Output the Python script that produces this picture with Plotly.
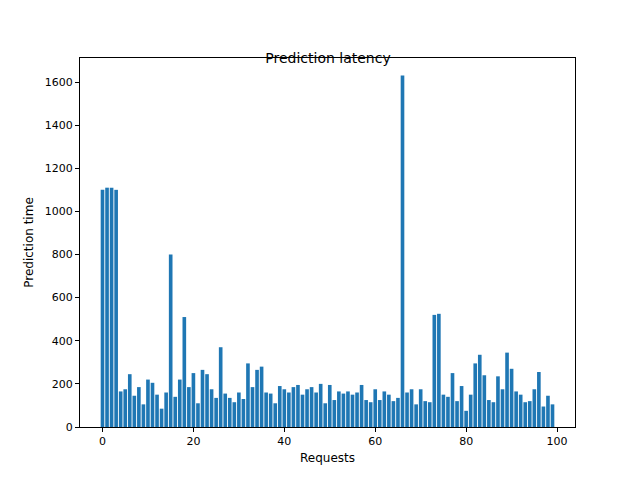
import plotly.graph_objects as go

requests = list(range(100))
latency = [1100, 1110, 1110, 1100, 165, 175, 245, 145, 185, 105,
           220, 205, 150, 85, 160, 800, 140, 220, 510, 185,
           250, 110, 265, 245, 175, 135, 370, 155, 135, 115,
           160, 130, 295, 185, 265, 280, 160, 155, 110, 190,
           175, 160, 185, 195, 150, 175, 185, 160, 200, 110,
           195, 125, 165, 155, 165, 150, 160, 195, 125, 115,
           175, 125, 165, 150, 120, 135, 1630, 160, 175, 105,
           175, 120, 115, 520, 525, 150, 140, 250, 120, 190,
           75, 150, 295, 335, 240, 125, 115, 235, 175, 345,
           270, 165, 150, 115, 120, 175, 255, 95, 145, 105]

fig = go.Figure(go.Bar(x=requests, y=latency, marker=dict(color="#1f77b4", line=dict(width=0))))

axis_style = dict(showgrid=False, zeroline=False, showline=True, linecolor="black", mirror=True,
                  ticks="outside", ticklen=4, tickcolor="black", tickfont=dict(size=11, color="black"))

fig.update_layout(
    width=640, height=480,
    margin=dict(l=72, r=73, t=50, b=61),
    plot_bgcolor="white", paper_bgcolor="white",
    font=dict(family="DejaVu Sans", color="black"),
    title=dict(text="Prediction latency", x=0.5, xanchor="center", y=0.885, yanchor="bottom", font=dict(size=14)),
    bargap=0.2,
    showlegend=False,
)
fig.update_xaxes(range=[-4.95, 103.95], tickvals=[0, 20, 40, 60, 80, 100],
                 title=dict(text="Requests", font=dict(size=12), standoff=6), **axis_style)
fig.update_yaxes(range=[0, 1711.5], tickvals=list(range(0, 1601, 200)),
                 title=dict(text="Prediction time", font=dict(size=12), standoff=8), **axis_style)

fig.write_html("out.html")
